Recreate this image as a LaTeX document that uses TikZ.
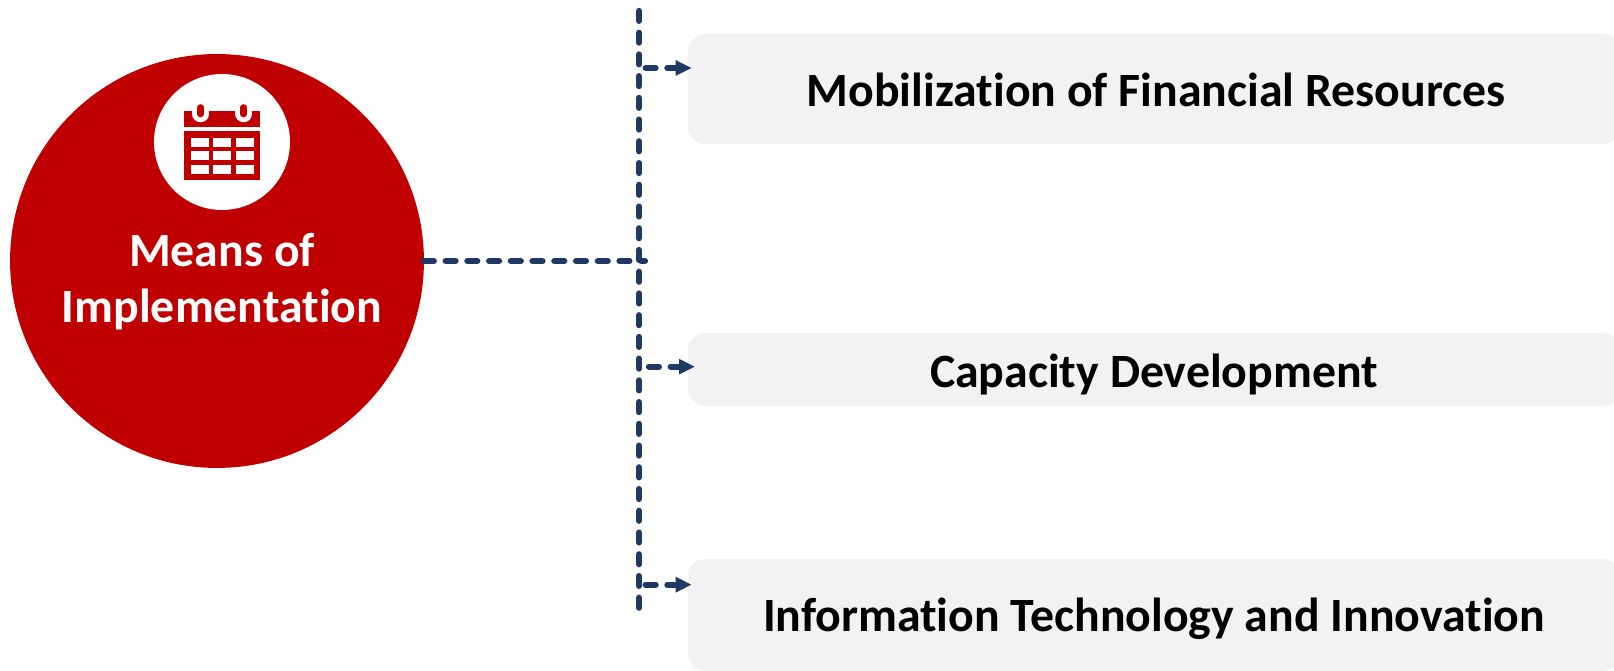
\documentclass[tikz,border=0pt]{standalone}
\usepackage{fontspec}
\setmainfont[Ligatures=NoCommon]{Carlito}
\usetikzlibrary{arrows.meta}
\definecolor{meansred}{HTML}{C00000}
\definecolor{linkblue}{HTML}{1F3864}
\definecolor{boxgray}{HTML}{F2F2F2}
\tikzset{
  itembox/.style={fill=boxgray, rounded corners=0.34cm, inner sep=0pt, outer sep=0pt, anchor=north west},
  itemtext/.style={font=\bfseries\fontsize{27.2}{32}\selectfont, text=black},
  linkline/.style={draw=linkblue, line width=3.6pt, line cap=round, dash pattern=on 5.6pt off 6.77pt},
  linkarrow/.style={linkline, -{Triangle[length=0.32cm,width=0.29cm,fill=linkblue]}},
}
\begin{document}
\begin{tikzpicture}[x=0.02cm,y=-0.02cm]
\useasboundingbox (0,0) rectangle (1614,671);
% left circle
\node[circle, fill=meansred, minimum size=8.28cm, inner sep=0pt, outer sep=0pt] (means) at (217,261) {};
\node[circle, fill=white, minimum size=2.72cm, inner sep=0pt] (iconbg) at (222,142) {};
\node[font=\bfseries\fontsize{27.2}{32}\selectfont, text=white, align=center] (meanstext) at (222,282) {Means of\\Implementation};
% calendar icon
\fill[meansred] (184.3,111) rectangle (260.3,127);
\fill[meansred] (184.3,131.3) rectangle (260.3,180);
\foreach \cellx in {191,213.3,235.7} {
  \foreach \celly in {138,151.3,164.7} {
    \fill[white] (\cellx,\celly) rectangle ++(18,9);
  }
}
\foreach \ringx in {200.7,243.7} {
  \draw[white, line width=9.4pt, line cap=round] (\ringx,108) -- ++(0,6);
  \draw[meansred, line width=3.8pt, line cap=round] (\ringx,107.5) -- ++(0,6.5);
}
% boxes
\node[itembox, minimum width=18.64cm, minimum height=2.2cm] (mobil) at (688,34) {};
\node[itembox, minimum width=18.64cm, minimum height=1.46cm] (capac) at (688,333) {};
\node[itembox, minimum width=18.64cm, minimum height=2.24cm] (infotech) at (688,559) {};
\node[itemtext] (mobiltext) at (1156,90) {Mobilization of Financial Resources};
\node[itemtext] (capactext) at (1154,374) {Capacity Development};
\node[itemtext] (infotext) at (1154,619) {Information Technology and Innovation};
% links
\coordinate (trunktop) at (639,11);
\coordinate (trunkbot) at (639,609);
\coordinate (trunkmid) at (645,261);
\coordinate (start1) at (645.7,68);
\coordinate (tip1) at (691.7,68);
\coordinate (start2) at (649,366.7);
\coordinate (tip2) at (695,366.7);
\coordinate (start3) at (645.7,584.7);
\coordinate (tip3) at (691.7,584.7);
\draw[linkline] (trunktop) -- (trunkbot);
\draw[linkline] (means.east) -- (trunkmid);
\draw[linkarrow] (start1) -- (tip1);
\draw[linkarrow] (start2) -- (tip2);
\draw[linkarrow] (start3) -- (tip3);
\end{tikzpicture}
\end{document}
